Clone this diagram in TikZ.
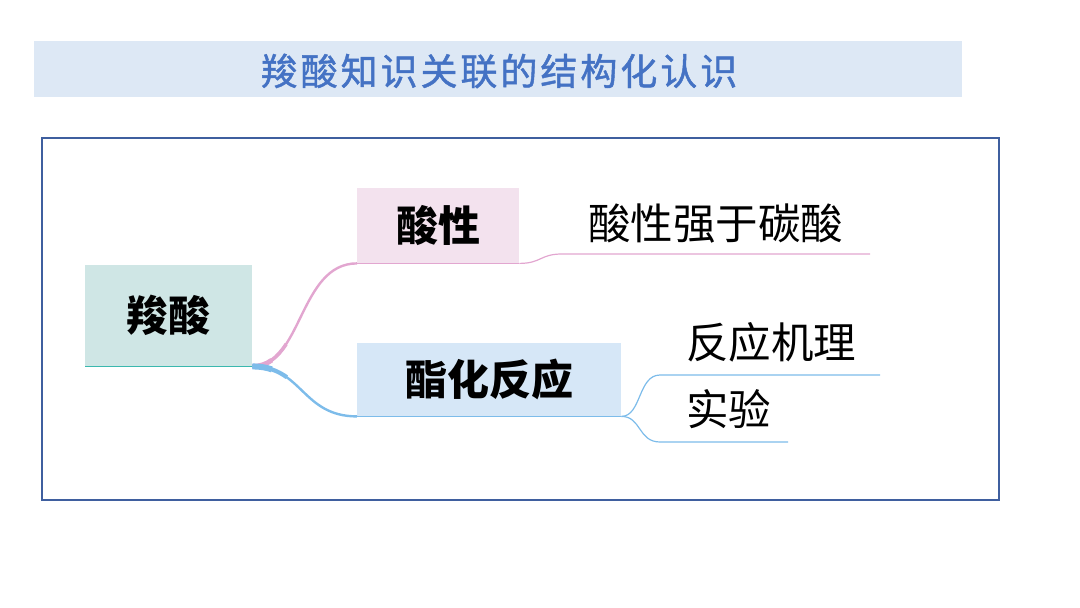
\documentclass[tikz,border=0pt]{standalone}
\usepackage{fontspec}
\newfontfamily\cjk{Noto Sans CJK SC}
\newfontfamily\cjktitle[LetterSpace=8,FakeBold=1.2]{Noto Sans CJK SC}
\definecolor{titlefill}{HTML}{DDE8F5}
\definecolor{titleblue}{HTML}{4472C4}
\definecolor{frameblue}{HTML}{3F5F9F}
\definecolor{rootfill}{HTML}{CFE6E5}
\definecolor{rootline}{HTML}{3BB8AE}
\definecolor{pinkfill}{HTML}{F3E2EE}
\definecolor{pinkline}{HTML}{E2A6D0}
\definecolor{bluefill}{HTML}{D6E7F7}
\definecolor{blueline}{HTML}{7DBCEA}
\tikzset{
  box/.style={inner sep=0pt, anchor=north west, font=\cjk\bfseries\fontsize{42}{44}\selectfont},
  leaf/.style={inner sep=0pt, anchor=base west, font=\cjk\fontsize{42.5}{44}\selectfont},
}
\begin{document}
\begin{tikzpicture}[x=1pt,y=-1pt]
\useasboundingbox (0,0) rectangle (1080,608);
% title
\node[fill=titlefill, minimum width=928pt, minimum height=56pt, anchor=north west, inner sep=0pt] (titlebar) at (34,41) {};
\node[font=\cjktitle\fontsize{37}{40}\selectfont, text=titleblue, inner sep=0pt] (title) at (499,71) {羧酸知识关联的结构化认识};
% frame
\node[draw=frameblue, line width=1.6pt, minimum width=957pt, minimum height=362pt, anchor=north west, inner sep=0pt] (frame) at (41,137) {};
% main nodes
\node[box, fill=rootfill, minimum width=167pt, minimum height=101pt] (root) at (85,265) {羧酸};
\node[box, fill=pinkfill, minimum width=162pt, minimum height=75pt] (acid) at (357,188) {酸性};
\node[box, fill=bluefill, minimum width=264pt, minimum height=73pt] (ester) at (357,343) {酯化反应};
% underlines
\draw[rootline, line width=1.5pt] (root.south west) -- (root.south east);
\draw[pinkline, line width=1.5pt] (acid.south west) -- (acid.south east);
\draw[blueline, line width=1.5pt] (ester.south west) -- (ester.south east);
% tapered connectors (thicker near the root)
\draw[pinkline, line width=2.4pt] (root.south east) .. controls +(50,0) and +(-58,0) .. (acid.south west);
\draw[pinkline, line width=3.6pt] (root.south east) .. controls +(15,0) and +(-8.6,13) .. +(33.8,-22.3);
\draw[pinkline, line width=4.8pt] (root.south east) .. controls +(7.5,0) and +(-5.5,3.9) .. +(19.3,-6.2);
\draw[blueline, line width=2.4pt] (root.south east) .. controls +(50,0) and +(-55,0) .. (ester.south west);
\draw[blueline, line width=4.2pt] (root.south east) .. controls +(15,0) and +(-8.9,-6.3) .. +(34.4,10.8);
\draw[blueline, line width=6pt] (root.south east) .. controls +(7.5,0) and +(-5.6,-1.9) .. +(19.5,3);
% leaves
\coordinate (l1a) at (562,254);
\coordinate (l1b) at (870,254);
\node[leaf] (l1) at (588,239) {酸性强于碳酸};
\draw[pinkline, line width=1.2pt] (acid.south east) .. controls +(22,0) and +(-22,0) .. (l1a) -- (l1b);
\coordinate (l2a) at (660,375);
\coordinate (l2b) at (880,375);
\node[leaf] (l2) at (686,358) {反应机理};
\coordinate (l3a) at (660,442);
\coordinate (l3b) at (788,442);
\node[leaf] (l3) at (686,425) {实验};
\draw[blueline, line width=1.2pt] (ester.south east) .. controls +(20,0) and +(-22,0) .. (l2a) -- (l2b);
\draw[blueline, line width=1.2pt] (ester.south east) .. controls +(20,0) and +(-22,0) .. (l3a) -- (l3b);
\end{tikzpicture}
\end{document}
